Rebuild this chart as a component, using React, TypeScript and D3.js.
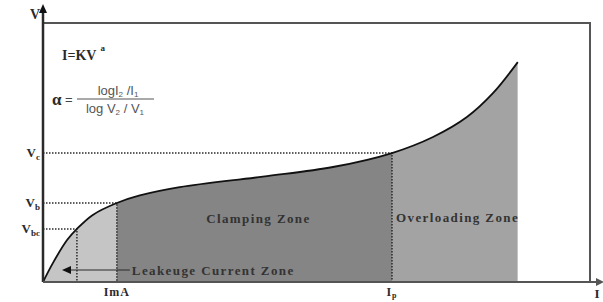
import { useEffect, useRef } from 'react';
import * as d3 from 'd3';

// V-I characteristic (schematic units)
const currentI = [0, 1.8, 4.4, 6.2, 9.1, 13.5, 17.7, 25.0, 40.2, 53.0, 63.8, 71.3, 77.5, 82.3, 86.8];
const voltageV = [0, 7.3, 16.2, 20.5, 25.9, 30.5, 33.4, 36.6, 40.7, 44.4, 49.8, 56.0, 63.7, 73.0, 84.9];

// zone limits along the current axis
const zoneEdges = [0, 13.5, 63.8, 86.8];
const zoneFills = ['#c5c5c5', '#858585', '#a3a3a3'];

// knee points: Vc at Ip, Vb at 1mA, Vbc
const kneeI = [63.8, 13.5, 6.2];
const kneeV = [49.8, 30.5, 20.5];
const kneeSub = ['c', 'b', 'bc'];

const xTickValues = [13.5, 63.8];
const xTickBase = ['ImA', 'I'];
const xTickSub = ['', 'p'];

export default function App() {
  const svgRef = useRef<SVGSVGElement>(null);

  useEffect(() => {
    if (!svgRef.current) return;
    const svg = d3.select(svgRef.current);
    svg.selectAll('*').remove();

    const width = 603;
    const height = 302;
    const margin = { top: 23, right: 13, bottom: 20, left: 43 };

    const x = d3.scaleLinear().domain([0, 100]).range([margin.left, width - margin.right]);
    const y = d3.scaleLinear().domain([0, 100]).range([height - margin.bottom, margin.top]);

    const pts = currentI.map((c, i) => [c, voltageV[i]] as [number, number]);
    const serif = '"Liberation Serif", "Times New Roman", serif';
    const sans = '"Liberation Sans", Arial, sans-serif';
    const ink = '#2a2a2a';
    const smooth = d3.curveCatmullRom.alpha(0.5);

    // frame (top and right)
    svg.append('path')
      .attr('d', `M${x(0)},${y(100)}H${x(100)}V${y(0)}`)
      .attr('fill', 'none')
      .attr('stroke', '#555')
      .attr('stroke-width', 2);

    // zone fills
    const area = d3.area<[number, number]>()
      .x(d => x(d[0]))
      .y0(y(0))
      .y1(d => y(d[1]))
      .curve(smooth);

    const defs = svg.append('defs');
    zoneFills.forEach((fill, i) => {
      defs.append('clipPath')
        .attr('id', `zone-${i}`)
        .append('rect')
        .attr('x', x(zoneEdges[i]))
        .attr('y', 0)
        .attr('width', x(zoneEdges[i + 1]) - x(zoneEdges[i]))
        .attr('height', y(0));
      svg.append('path')
        .datum(pts)
        .attr('d', area)
        .attr('fill', fill)
        .attr('clip-path', `url(#zone-${i})`);
    });

    // dotted guide lines
    kneeI.forEach((c, i) => {
      svg.append('path')
        .attr('d', `M${x(0)},${y(kneeV[i])}H${x(c)}V${y(0)}`)
        .attr('fill', 'none')
        .attr('stroke', ink)
        .attr('stroke-width', 1.5)
        .attr('stroke-dasharray', '1.5 1.5');
    });

    // curve
    svg.append('path')
      .datum(pts)
      .attr('d', d3.line<[number, number]>().x(d => x(d[0])).y(d => y(d[1])).curve(smooth))
      .attr('fill', 'none')
      .attr('stroke', '#111')
      .attr('stroke-width', 1.8);

    // axes with arrowheads
    svg.append('line')
      .attr('x1', x(0)).attr('y1', y(0))
      .attr('x2', x(0)).attr('y2', 9)
      .attr('stroke', ink).attr('stroke-width', 2.5);
    svg.append('path')
      .attr('d', `M${x(0)},4L${x(0) - 4},13L${x(0) + 4},13Z`)
      .attr('fill', '#111');
    svg.append('line')
      .attr('x1', x(0)).attr('y1', y(0))
      .attr('x2', 600).attr('y2', y(0))
      .attr('stroke', '#555').attr('stroke-width', 2);
    svg.append('path')
      .attr('d', `M604,${y(0)}L596,${y(0) - 4}L596,${y(0) + 4}Z`)
      .attr('fill', '#555');

    // axis names
    svg.append('text')
      .attr('x', 40).attr('y', 19)
      .attr('text-anchor', 'end')
      .attr('font-family', serif).attr('font-weight', 'bold').attr('font-size', 14)
      .attr('fill', ink)
      .text('V');
    svg.append('text')
      .attr('x', 597).attr('y', 298)
      .attr('text-anchor', 'middle')
      .attr('font-family', serif).attr('font-weight', 'bold').attr('font-size', 13)
      .attr('fill', ink)
      .text('I');

    // V tick labels
    kneeV.forEach((v, i) => {
      const t = svg.append('text')
        .attr('x', 40).attr('y', y(v) + 4)
        .attr('text-anchor', 'end')
        .attr('font-family', serif).attr('font-weight', 'bold').attr('font-size', 13)
        .attr('fill', ink);
      t.append('tspan').text('V');
      t.append('tspan').attr('dy', 3).attr('font-size', 9).text(kneeSub[i]);
    });

    // I tick labels
    xTickValues.forEach((c, i) => {
      const t = svg.append('text')
        .attr('x', x(c)).attr('y', 296)
        .attr('text-anchor', 'middle')
        .attr('font-family', serif).attr('font-weight', 'bold').attr('font-size', 12)
        .attr('letter-spacing', 1)
        .attr('fill', ink);
      t.append('tspan').text(xTickBase[i]);
      if (xTickSub[i]) t.append('tspan').attr('dy', 2).attr('font-size', 8).text(xTickSub[i]);
    });

    // zone labels
    const zoneText = (tx: number, ty: number, label: string, anchor: string) =>
      svg.append('text')
        .attr('x', tx).attr('y', ty)
        .attr('text-anchor', anchor)
        .attr('font-family', serif).attr('font-weight', 'bold').attr('font-size', 13)
        .attr('letter-spacing', 1.4)
        .attr('fill', '#333')
        .text(label);

    zoneText((x(zoneEdges[1]) + x(zoneEdges[2])) / 2 + 4, 223, 'Clamping Zone', 'middle');
    zoneText(x(zoneEdges[2]) + 4, 222, 'Overloading Zone', 'start');
    zoneText(x(zoneEdges[1]) + 15, 275, 'Leakeuge Current Zone', 'start');

    // leakage arrow
    svg.append('line')
      .attr('x1', x(zoneEdges[0]) + 26).attr('y1', 270)
      .attr('x2', x(zoneEdges[1]) + 13).attr('y2', 270)
      .attr('stroke', ink).attr('stroke-width', 1.2);
    svg.append('path')
      .attr('d', `M${x(0) + 19},270L${x(0) + 28},266L${x(0) + 28},274Z`)
      .attr('fill', '#111');

    // formulas
    const f1 = svg.append('text')
      .attr('x', 62).attr('y', 60)
      .attr('font-family', serif).attr('font-weight', 'bold').attr('font-size', 14)
      .attr('fill', ink);
    f1.append('tspan').text('I=KV');
    f1.append('tspan').attr('dx', 4).attr('dy', -9).attr('font-size', 9).text('a');

    svg.append('text')
      .attr('x', 52).attr('y', 105)
      .attr('font-family', serif).attr('font-weight', 'bold').attr('font-size', 17)
      .attr('fill', ink)
      .text('α');
    svg.append('text')
      .attr('x', 65).attr('y', 104)
      .attr('font-family', sans).attr('font-size', 13)
      .attr('fill', '#444')
      .text('=');
    svg.append('line')
      .attr('x1', 77).attr('y1', 99).attr('x2', 154).attr('y2', 99)
      .attr('stroke', '#555').attr('stroke-width', 1.2);

    const num = svg.append('text')
      .attr('x', 118).attr('y', 95)
      .attr('text-anchor', 'middle')
      .attr('font-family', sans).attr('font-size', 13)
      .attr('fill', '#555');
    num.append('tspan').text('logI');
    num.append('tspan').attr('dy', 2).attr('font-size', 8).text('2');
    num.append('tspan').attr('dy', -2).text(' /I');
    num.append('tspan').attr('dy', 2).attr('font-size', 8).text('1');

    const den = svg.append('text')
      .attr('x', 115).attr('y', 113)
      .attr('text-anchor', 'middle')
      .attr('font-family', sans).attr('font-size', 13)
      .attr('fill', '#555');
    den.append('tspan').text('log V');
    den.append('tspan').attr('dy', 2).attr('font-size', 8).text('2');
    den.append('tspan').attr('dy', -2).text(' / V');
    den.append('tspan').attr('dy', 2).attr('font-size', 8).text('1');
  }, []);

  return (
    <svg
      ref={svgRef}
      width={603}
      height={302}
      style={{ position: 'absolute', left: 0, top: 0, background: '#fff' }}
    />
  );
}
